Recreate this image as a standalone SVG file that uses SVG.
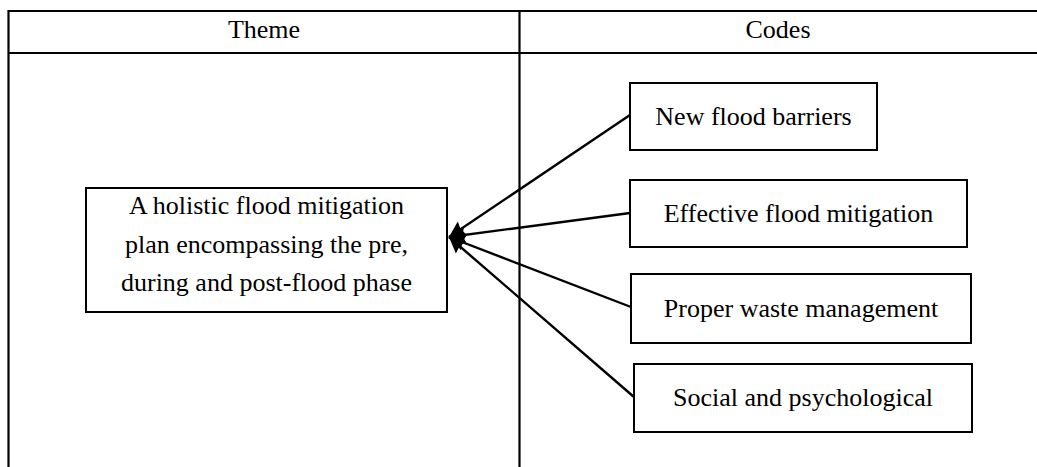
<svg xmlns="http://www.w3.org/2000/svg" width="1037" height="467" viewBox="0 0 1037 467">
<style>
.grid{stroke:#000;stroke-width:2.2;fill:none}
.box{fill:#fff;stroke:#000;stroke-width:2}
.t{font-family:"Liberation Serif","Times New Roman",serif;font-size:26px;fill:#000;text-anchor:middle}
.conn{stroke:#000;stroke-width:2.4;fill:none;marker-end:url(#arr)}
</style>
<defs>
<marker id="arr" markerUnits="userSpaceOnUse" markerWidth="18" markerHeight="18" refX="16" refY="9" orient="auto">
<path d="M0,1 L16,9 L0,17 L2,9 z" fill="#000"/>
</marker>
</defs>
<rect width="1037" height="467" fill="#fff"/>
<g id="table">
<line class="grid" x1="8.5" y1="11" x2="1037" y2="11"/>
<line class="grid" x1="8.5" y1="53" x2="1037" y2="53"/>
<line class="grid" x1="8.5" y1="10" x2="8.5" y2="467"/>
<line class="grid" x1="519.5" y1="11" x2="519.5" y2="467"/>
<text class="t" x="264" y="38">Theme</text>
<text class="t" x="778" y="38">Codes</text>
</g>
<g id="theme">
<rect class="box" x="86" y="188" width="361" height="124"/>
<text class="t" x="266.5" y="214">A holistic flood mitigation</text>
<text class="t" x="266.5" y="253">plan encompassing the pre,</text>
<text class="t" x="266.5" y="291">during and post-flood phase</text>
</g>
<g id="code1">
<rect class="box" x="630" y="83" width="247" height="67"/>
<text class="t" x="753.5" y="125">New flood barriers</text>
</g>
<g id="code2">
<rect class="box" x="630" y="180" width="337" height="67"/>
<text class="t" x="798.5" y="222">Effective flood mitigation</text>
</g>
<g id="code3">
<rect class="box" x="631" y="274" width="340" height="69"/>
<text class="t" x="801" y="317">Proper waste management</text>
</g>
<g id="code4">
<rect class="box" x="634" y="364" width="338" height="68"/>
<text class="t" x="803" y="406">Social and psychological</text>
</g>
<g id="connectors">
<line class="conn" x1="630" y1="115" x2="449" y2="237"/>
<line class="conn" x1="630" y1="213" x2="449" y2="237"/>
<line class="conn" x1="631" y1="307" x2="449" y2="237"/>
<line class="conn" x1="634" y1="397" x2="449" y2="237"/>
</g>
</svg>
